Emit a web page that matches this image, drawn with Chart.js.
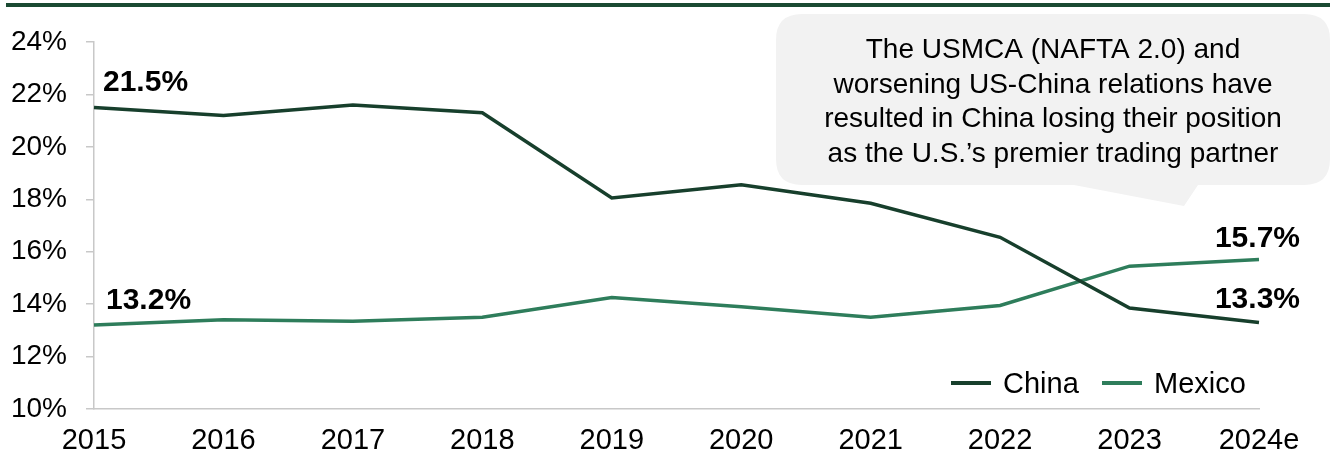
<!DOCTYPE html>
<html lang="en">
<head>
<meta charset="UTF-8">
<title>China vs Mexico share of US trade</title>
<script src="https://cdn.jsdelivr.net/npm/chart.js"></script>
<style>
  html, body { margin: 0; padding: 0; background: #fff; }
  #wrap { width: 1336px; height: 455px; position: relative; }
</style>
</head>
<body>
<div id="wrap"><canvas id="tradeChart" width="1336" height="455"></canvas></div>
<script>
    const years = ['2015', '2016', '2017', '2018', '2019', '2020', '2021', '2022', '2023', '2024e'];
    const china = [21.5, 21.2, 21.6, 21.3, 18.05, 18.55, 17.85, 16.55, 13.85, 13.3];
    const mexico = [13.2, 13.4, 13.35, 13.5, 14.25, 13.9, 13.5, 13.95, 15.45, 15.7];
    const yTicks = [10, 12, 14, 16, 18, 20, 22, 24];
    const calloutLines = [
        'The USMCA (NAFTA 2.0) and',
        'worsening US-China relations have',
        'resulted in China losing their position',
        'as the U.S.\u2019s premier trading partner'
    ];

    const chinaColor = '#173f2c';
    const mexicoColor = '#2e7d5b';
    const font = '"Liberation Sans", Arial, sans-serif';

    // extra drawing: top rule, callout bubble, end labels, legend
    const extras = {
        id: 'extras',
        afterDraw(chart) {
            const ctx = chart.ctx;
            ctx.save();

            // top rule
            ctx.fillStyle = '#1a4a32';
            ctx.fillRect(6, 3, 1324, 4);

            // callout bubble
            const bx = 776, by = 14, bw = 554, bh = 171, r = 26;
            ctx.fillStyle = '#f2f2f2';
            ctx.beginPath();
            ctx.moveTo(bx + r, by);
            ctx.lineTo(bx + bw - r, by);
            ctx.quadraticCurveTo(bx + bw, by, bx + bw, by + r);
            ctx.lineTo(bx + bw, by + bh - r);
            ctx.quadraticCurveTo(bx + bw, by + bh, bx + bw - r, by + bh);
            ctx.lineTo(1198, by + bh);
            ctx.lineTo(1184, 206);
            ctx.lineTo(1074, by + bh);
            ctx.lineTo(bx + r, by + bh);
            ctx.quadraticCurveTo(bx, by + bh, bx, by + bh - r);
            ctx.lineTo(bx, by + r);
            ctx.quadraticCurveTo(bx, by, bx + r, by);
            ctx.closePath();
            ctx.fill();

            ctx.fillStyle = '#000';
            ctx.font = '28px ' + font;
            ctx.textAlign = 'center';
            ctx.textBaseline = 'alphabetic';
            calloutLines.forEach((t, i) => ctx.fillText(t, 1053, 58 + i * 34.5));

            // value labels at first and last points
            ctx.font = 'bold 30px ' + font;
            ctx.textAlign = 'left';
            ctx.fillText(china[0].toFixed(1) + '%', 103, 91);
            ctx.fillText(mexico[0].toFixed(1) + '%', 106, 309);
            ctx.textAlign = 'right';
            ctx.fillText(mexico[mexico.length - 1].toFixed(1) + '%', 1300, 247);
            ctx.fillText(china[china.length - 1].toFixed(1) + '%', 1300, 308);

            // legend
            ctx.font = '29px ' + font;
            ctx.textAlign = 'left';
            const items = [[chinaColor, 'China', 951], [mexicoColor, 'Mexico', 1102]];
            items.forEach(([c, label, lx]) => {
                ctx.strokeStyle = c;
                ctx.lineWidth = 4;
                ctx.beginPath();
                ctx.moveTo(lx, 383);
                ctx.lineTo(lx + 40, 383);
                ctx.stroke();
                ctx.fillText(label, lx + 52, 393);
            });
            ctx.restore();
        }
    };

    new Chart(document.getElementById('tradeChart'), {
        type: 'line',
        data: {
            labels: years,
            datasets: [
                { label: 'China', data: china, borderColor: chinaColor, borderWidth: 3.5, pointRadius: 0, tension: 0 },
                { label: 'Mexico', data: mexico, borderColor: mexicoColor, borderWidth: 3.5, pointRadius: 0, tension: 0 }
            ]
        },
        options: {
            responsive: false,
            animation: false,
            layout: { padding: { top: 42, right: 77, left: 0, bottom: 0 } },
            plugins: { legend: { display: false }, tooltip: { enabled: false } },
            scales: {
                x: {
                    offset: false,
                    grid: { display: false },
                    border: { display: true, color: '#c8c8c8', width: 1.5 },
                    ticks: { color: '#000', font: { family: font, size: 29 }, padding: 7, maxRotation: 0, autoSkip: false },
                    afterFit: s => { s.height = 46; }
                },
                y: {
                    min: 10, max: 24,
                    afterBuildTicks: s => { s.ticks = yTicks.map(v => ({ value: v })); },
                    grid: { drawOnChartArea: false, tickLength: 8, color: '#c8c8c8', lineWidth: 1.5 },
                    border: { display: true, color: '#c8c8c8', width: 1.5 },
                    ticks: { color: '#000', font: { family: font, size: 28 }, padding: 19, callback: v => v + '%' },
                    afterFit: s => { s.width = 94; }
                }
            }
        },
        plugins: [extras]
    });
</script>
</body>
</html>
